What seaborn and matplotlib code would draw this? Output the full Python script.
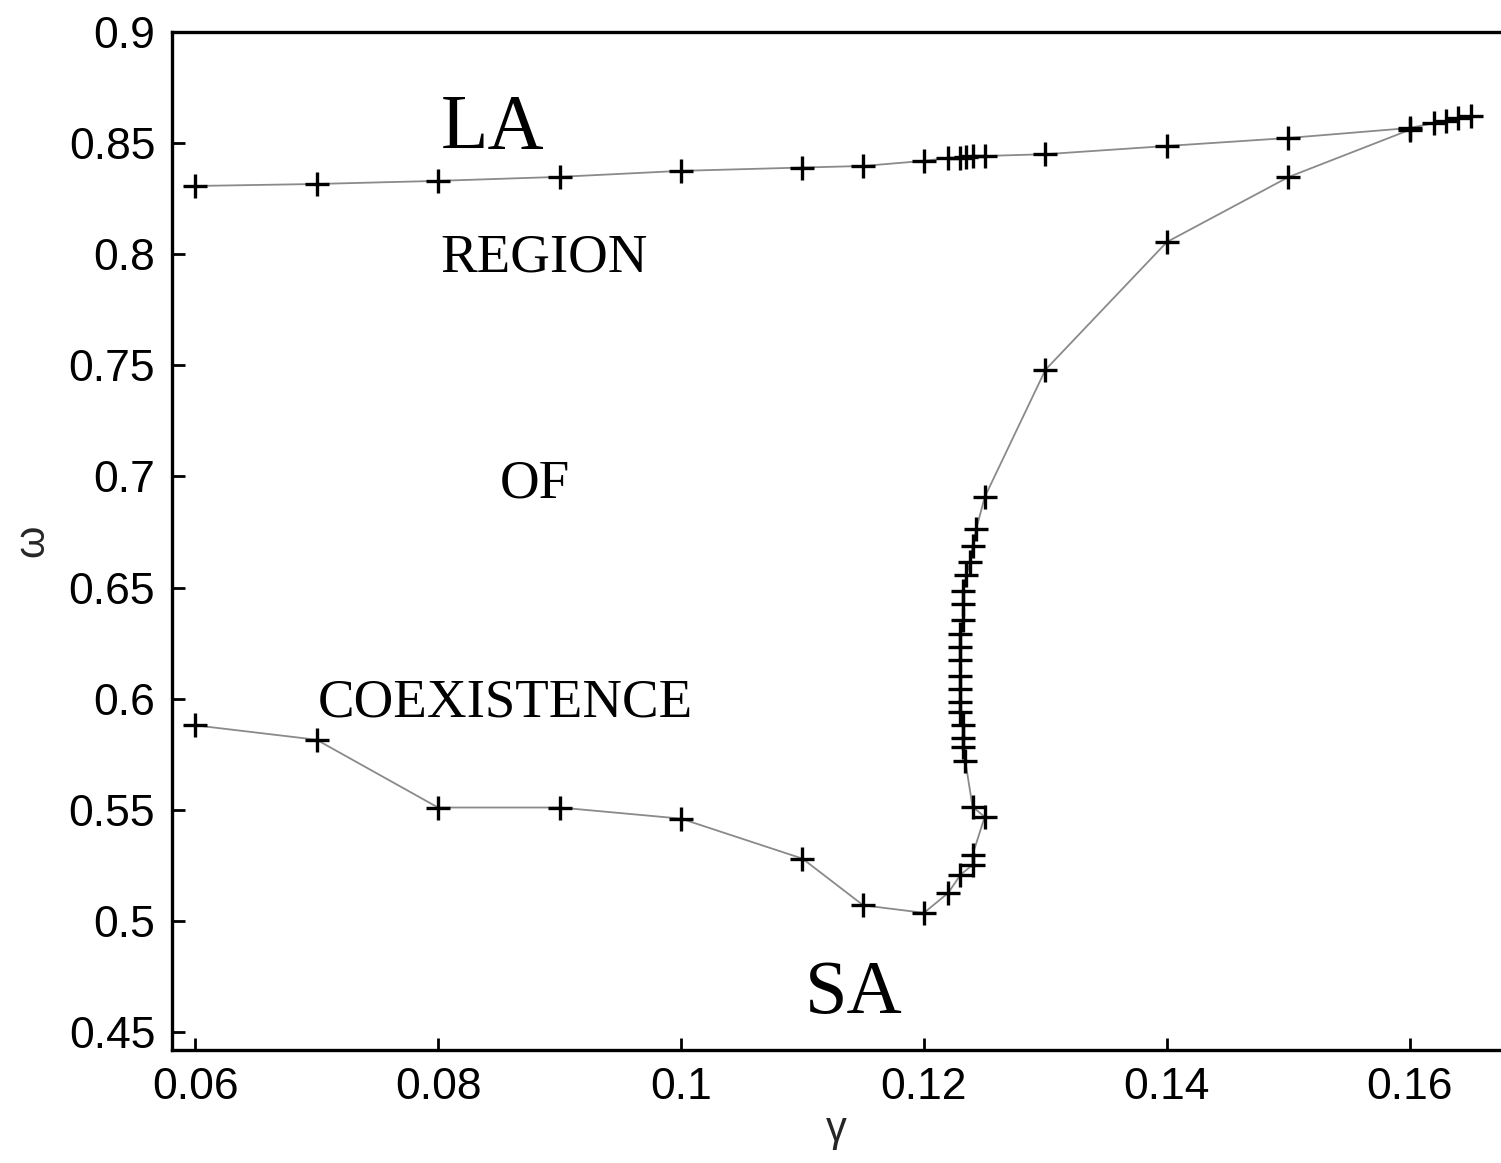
import matplotlib
matplotlib.use("Agg")
import matplotlib.pyplot as plt
import seaborn as sns
import pandas as pd

# Upper branch (LA boundary)
upper_gamma = [0.06, 0.07, 0.08, 0.09, 0.10, 0.11, 0.115, 0.12, 0.122, 0.123, 0.1235,
               0.124, 0.125, 0.13, 0.14, 0.15, 0.16, 0.162, 0.163, 0.164, 0.165]
upper_omega = [0.8307, 0.8316, 0.833, 0.8348, 0.8375, 0.839, 0.8397, 0.842, 0.8433, 0.8435, 0.8438,
               0.8440, 0.8442, 0.845, 0.8487, 0.8523, 0.8568, 0.859, 0.860, 0.8613, 0.8622]

# Lower branch (SA boundary)
lower_gamma = [0.06, 0.07, 0.08, 0.09, 0.10, 0.11, 0.115, 0.12, 0.122, 0.123, 0.124, 0.124,
               0.125, 0.124, 0.1234, 0.1232, 0.1232, 0.1232, 0.123, 0.123, 0.123, 0.123, 0.123,
               0.123, 0.123, 0.1232, 0.1232, 0.1232, 0.1235, 0.1238, 0.124, 0.1243, 0.125,
               0.13, 0.14, 0.15, 0.16]
lower_omega = [0.588, 0.5815, 0.551, 0.551, 0.546, 0.528, 0.507, 0.5036, 0.5126, 0.5207, 0.5252, 0.5297,
               0.5468, 0.5513, 0.572, 0.5783, 0.5823, 0.5882, 0.594, 0.5985, 0.6044, 0.6102, 0.6174,
               0.6233, 0.6291, 0.6354, 0.6426, 0.6485, 0.6557, 0.6615, 0.6687, 0.6763, 0.6907,
               0.748, 0.8055, 0.8347, 0.856]

x_ticks = [0.06, 0.08, 0.10, 0.12, 0.14, 0.16]
x_tick_labels = ["0.06", "0.08", "0.1", "0.12", "0.14", "0.16"]
y_ticks = [0.45, 0.50, 0.55, 0.60, 0.65, 0.70, 0.75, 0.80, 0.85, 0.90]
y_tick_labels = ["0.45", "0.5", "0.55", "0.6", "0.65", "0.7", "0.75", "0.8", "0.85", "0.9"]

annotations = [("LA", 0.0802, 0.8478, 56), ("REGION", 0.0802, 0.792, 39.5),
               ("OF", 0.0851, 0.6907, 39.5), ("COEXISTENCE", 0.0701, 0.5918, 39.5),
               ("SA", 0.1102, 0.4586, 55)]

sns.set_theme(style="white")
plt.rcParams['font.family'] = ['Liberation Sans', 'DejaVu Sans']

fig = plt.figure(figsize=(15.01, 11.63), dpi=100)
ax = fig.add_axes([0.1146, 0.0972, 0.8854, 0.8753])

up = pd.DataFrame({"gamma": upper_gamma, "omega": upper_omega})
lo = pd.DataFrame({"gamma": lower_gamma, "omega": lower_omega})
for df in (up, lo):
    sns.lineplot(data=df, x="gamma", y="omega", sort=False, estimator=None, ax=ax,
                 color="#8a8a8a", linewidth=1.3, marker="+", markersize=17,
                 markeredgecolor="black", markeredgewidth=2.4, markerfacecolor="black")

ax.set_xlim(0.0581, 0.1675)
ax.set_ylim(0.4419, 0.9)
ax.set_xticks(x_ticks)
ax.set_xticklabels(x_tick_labels)
ax.set_yticks(y_ticks)
ax.set_yticklabels(y_tick_labels)
ax.tick_params(direction="in", length=9, width=2, labelsize=32, pad=12, colors="black",
               bottom=True, left=True, top=False, right=False)

for s in ("left", "bottom", "top"):
    ax.spines[s].set_visible(True)
    ax.spines[s].set_color("black")
    ax.spines[s].set_linewidth(2.4)
ax.spines["right"].set_visible(False)

ax.set_xlabel("γ", fontsize=30, labelpad=2)
ax.set_ylabel("ω", fontsize=30, labelpad=12)

for txt, gx, oy, fs in annotations:
    ax.text(gx, oy, txt, fontsize=fs, family=['Liberation Serif', 'DejaVu Serif'],
            ha="left", va="baseline", color="black")

fig.savefig("out.png", dpi=100)
